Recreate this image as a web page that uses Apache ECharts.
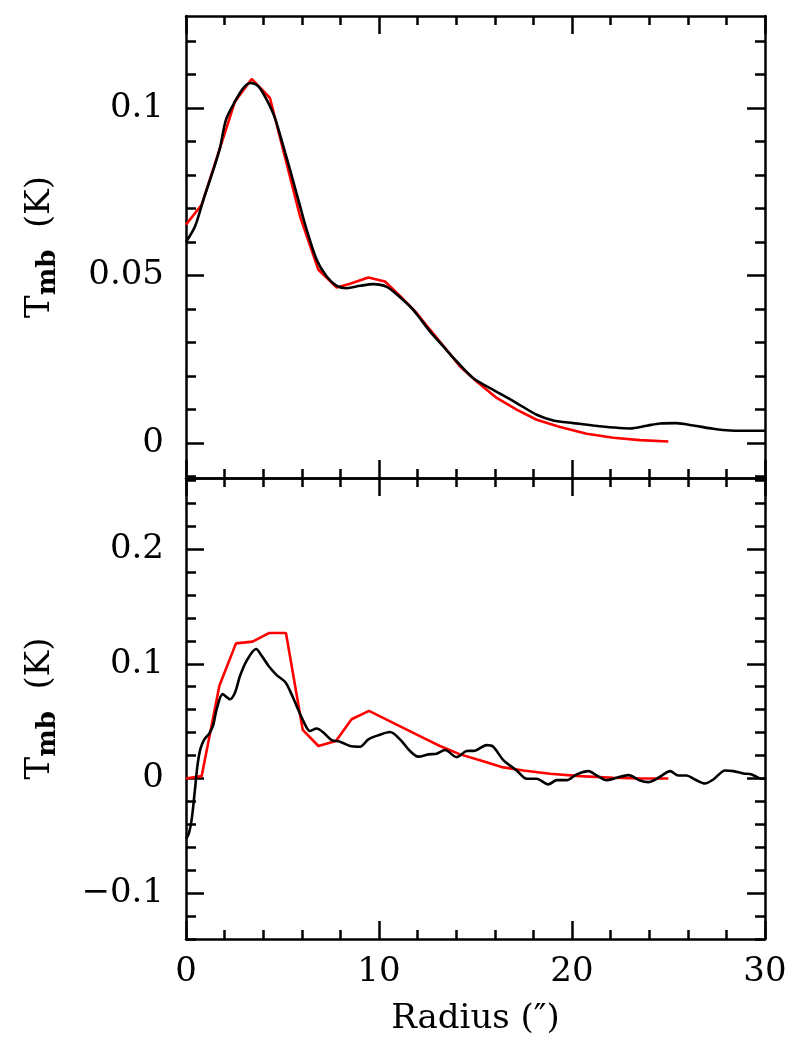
<!DOCTYPE html>
<html><head><meta charset="utf-8">
<script src="https://cdn.jsdelivr.net/npm/echarts@6/dist/echarts.min.js"></script>
<style>html,body{margin:0;padding:0;background:#fff}#chart{width:800px;height:1056px}</style>
</head><body><div id="chart"></div>
<script>
// ---- data ----
const xTickLabels = [0, 10, 20, 30];
const topMajorTicks = [0, 0.05, 0.1];
const topMinorTicks = [-0.01, 0.01, 0.02, 0.03, 0.04, 0.06, 0.07, 0.08, 0.09, 0.11, 0.12];
const bottomMajorTicks = [-0.1, 0, 0.1, 0.2];
const bottomMinorTicks = [-0.14, -0.12, -0.08, -0.06, -0.04, -0.02, 0.02, 0.04, 0.06, 0.08, 0.12, 0.14, 0.16, 0.18, 0.22, 0.24, 0.26];

const topBlackRadius = [0, 0.47, 0.9, 1.42, 1.76, 2.07, 2.54, 2.97, 3.35, 3.75, 4.18, 4.61, 5.04, 5.39, 5.82, 6.25, 6.77, 7.29, 7.81, 8.33, 9.02, 9.7, 10.4, 11.09, 11.7, 12.04, 12.64, 13.33, 14.03, 14.89, 15.92, 17.13, 18.17, 19.03, 20.07, 21.1, 22.14, 23.0, 23.87, 24.56, 25.4, 26.28, 27.32, 28.19, 29.74, 30];
const topBlackTmb = [0.0600, 0.0647, 0.0726, 0.0816, 0.0881, 0.0965, 0.1020, 0.1060, 0.1075, 0.1065, 0.1025, 0.0970, 0.0886, 0.0816, 0.0726, 0.0637, 0.0547, 0.0497, 0.0469, 0.0462, 0.0469, 0.0474, 0.0466, 0.0435, 0.0402, 0.0378, 0.0333, 0.0288, 0.0243, 0.0193, 0.0158, 0.0119, 0.0084, 0.0067, 0.0059, 0.0052, 0.0046, 0.0043, 0.0051, 0.0058, 0.0059, 0.0052, 0.0042, 0.0037, 0.0036, 0.0036];

const topRedRadius = [0, 0.81, 2.54, 3.4, 4.35, 5.91, 6.86, 7.81, 8.5, 9.45, 10.31, 11.09, 11.95, 12.64, 13.5, 14.2, 15.06, 16.1, 17.13, 18.17, 19.38, 20.76, 22.14, 23.52, 24.99];
const topRedTmb = [0.0652, 0.0711, 0.1020, 0.1087, 0.1030, 0.0676, 0.0517, 0.0464, 0.0475, 0.0494, 0.0482, 0.0439, 0.0388, 0.0338, 0.0278, 0.0228, 0.0183, 0.0134, 0.0099, 0.0069, 0.0047, 0.0027, 0.0015, 0.0008, 0.0004];

const bottomBlackRadius = [0, 0.15, 0.3, 0.45, 0.6, 0.75, 0.95, 1.2, 1.4, 1.59, 1.9, 2.28, 2.54, 2.8, 3.14, 3.63, 3.92, 4.27, 4.7, 5.13, 5.39, 5.73, 6.08, 6.42, 6.77, 7.12, 7.55, 7.98, 8.5, 9.02, 9.45, 9.96, 10.57, 11.09, 11.61, 12.04, 12.56, 12.99, 13.42, 14.03, 14.54, 14.97, 15.58, 15.92, 16.44, 17.13, 17.65, 18.17, 18.77, 19.21, 19.73, 20.24, 20.85, 21.28, 21.8, 22.32, 22.92, 23.52, 23.95, 24.56, 25.08, 25.51, 25.94, 26.37, 26.89, 27.32, 27.93, 28.36, 28.88, 29.31, 29.83, 30];
const bottomBlackTmb = [-0.053, -0.048, -0.035, -0.012, 0.012, 0.026, 0.034, 0.039, 0.046, 0.0604, 0.0735, 0.0691, 0.075, 0.0895, 0.1026, 0.1129, 0.107, 0.0983, 0.0901, 0.0843, 0.0764, 0.0633, 0.0501, 0.0414, 0.0435, 0.040, 0.0335, 0.0321, 0.0283, 0.0277, 0.0341, 0.0376, 0.0405, 0.0341, 0.0239, 0.019, 0.021, 0.0216, 0.0248, 0.0186, 0.0239, 0.0242, 0.0291, 0.0277, 0.016, 0.007, -0.0003, -0.0003, -0.0052, -0.0015, -0.0015, 0.0035, 0.0064, 0.0026, -0.0015, 0.0006, 0.0029, -0.0017, -0.0032, 0.0015, 0.0064, 0.0026, 0.0026, -0.0009, -0.0044, -0.0009, 0.007, 0.0064, 0.0044, 0.0035, -0.0003, 0.0];

const bottomRedRadius = [0, 0.81, 1.73, 2.59, 3.45, 4.32, 5.18, 6.05, 6.86, 7.77, 8.58, 9.48, 12.64, 13.16, 14.2, 15.23, 16.36, 17.48, 18.86, 20.41, 22.14, 23.52, 24.99];
const bottomRedTmb = [0.0, 0.002, 0.0808, 0.1178, 0.1193, 0.1269, 0.1269, 0.0423, 0.0283, 0.0327, 0.0516, 0.0589, 0.0325, 0.0283, 0.021, 0.0158, 0.0099, 0.007, 0.0041, 0.002, 0.0006, 0.0, 0.0];

// ---- chart ----
const F = 'DejaVu Serif';
const BLACK = '#000000';
const RED = '#ff0000';
const FS = 34;
const zip = (a, b) => a.map((v, i) => [v, b[i]]);
const fmt = v => {
  const r = Math.round(v * 1000) / 1000;
  return (r < 0 ? '\u2212' : '') + String(Math.abs(r));
};

function xAx(grid, pos, withLabels) {
  const ax = {
    gridIndex: grid, type: 'value', position: pos, min: 0, max: 30, interval: 10,
    axisLine: { show: true, onZero: false, lineStyle: { color: BLACK, width: 2.5 } },
    axisTick: { show: true, inside: true, length: 18, lineStyle: { color: BLACK, width: 2.5 } },
    minorTick: { show: true, splitNumber: 5, length: 9, lineStyle: { color: BLACK, width: 2.5 } },
    splitLine: { show: false },
    axisLabel: { show: withLabels, customValues: xTickLabels, margin: 16, fontFamily: F, fontSize: FS, color: BLACK }
  };
  if (withLabels) {
    ax.name = 'Radius (\u2033)';
    ax.nameLocation = 'middle';
    ax.nameGap = 63;
    ax.nameTextStyle = { fontFamily: F, fontSize: FS, color: BLACK };
  }
  return ax;
}

function yAx(grid, pos, min, max, ticks, major, labels) {
  const ax = {
    gridIndex: grid, type: 'value', position: pos, offset: 0, min: min, max: max,
    axisLine: { show: major, onZero: false, lineStyle: { color: BLACK, width: 2.5 } },
    axisTick: { show: true, inside: true, length: major ? 18 : 10, customValues: ticks, lineStyle: { color: BLACK, width: 2.5 } },
    splitLine: { show: false },
    axisLabel: { show: !!labels, customValues: ticks, formatter: fmt, margin: 22, fontFamily: F, fontSize: FS, color: BLACK }
  };
  if (labels) {
    ax.name = '{t|T}{s|mb}{t|  (K)}';
    ax.nameLocation = 'middle';
    ax.nameRotate = 90;
    ax.nameGap = 125;
    ax.nameTextStyle = {
      fontFamily: F, fontSize: FS, color: BLACK,
      rich: {
        t: { fontFamily: F, fontSize: FS, lineHeight: 38, verticalAlign: 'top', color: BLACK },
        s: { fontFamily: F, fontSize: 26, fontWeight: 'bold', lineHeight: 26, padding: [28, 0, 0, 0], verticalAlign: 'bottom', color: BLACK }
      }
    };
  }
  return ax;
}

const topMin = -0.0105, topMax = 0.1275;
const botMin = -0.14, botMax = 0.262;
const LW = 2.6;

const option = {
  animation: false,
  backgroundColor: '#ffffff',
  grid: [
    { left: 186, right: 35, top: 16, height: 462, outerBoundsMode: 'none' },
    { left: 186, right: 35, top: 478, height: 461, outerBoundsMode: 'none' }
  ],
  xAxis: [xAx(0, 'bottom', false), xAx(0, 'top', false), xAx(1, 'bottom', true), xAx(1, 'top', false)],
  yAxis: [
    yAx(0, 'left', topMin, topMax, topMajorTicks, true, true),
    yAx(0, 'left', topMin, topMax, topMinorTicks, false, false),
    yAx(0, 'right', topMin, topMax, topMajorTicks, true, false),
    yAx(0, 'right', topMin, topMax, topMinorTicks, false, false),
    yAx(1, 'left', botMin, botMax, bottomMajorTicks, true, true),
    yAx(1, 'left', botMin, botMax, bottomMinorTicks, false, false),
    yAx(1, 'right', botMin, botMax, bottomMajorTicks, true, false),
    yAx(1, 'right', botMin, botMax, bottomMinorTicks, false, false)
  ],
  series: [
    { name: 'model top', type: 'line', xAxisIndex: 0, yAxisIndex: 0, data: zip(topRedRadius, topRedTmb), showSymbol: false, lineStyle: { color: RED, width: LW }, itemStyle: { color: RED } },
    { name: 'observed top', type: 'line', xAxisIndex: 0, yAxisIndex: 0, data: zip(topBlackRadius, topBlackTmb), showSymbol: false, smooth: 0.3, lineStyle: { color: BLACK, width: LW }, itemStyle: { color: BLACK } },
    { name: 'model bottom', type: 'line', xAxisIndex: 2, yAxisIndex: 4, data: zip(bottomRedRadius, bottomRedTmb), showSymbol: false, lineStyle: { color: RED, width: LW }, itemStyle: { color: RED } },
    { name: 'observed bottom', type: 'line', xAxisIndex: 2, yAxisIndex: 4, data: zip(bottomBlackRadius, bottomBlackTmb), showSymbol: false, smooth: 0.3, lineStyle: { color: BLACK, width: LW }, itemStyle: { color: BLACK } }
  ]
};
const chart = echarts.init(document.getElementById('chart'), null, { renderer: 'canvas' });
chart.setOption(option);
</script>
</body></html>
